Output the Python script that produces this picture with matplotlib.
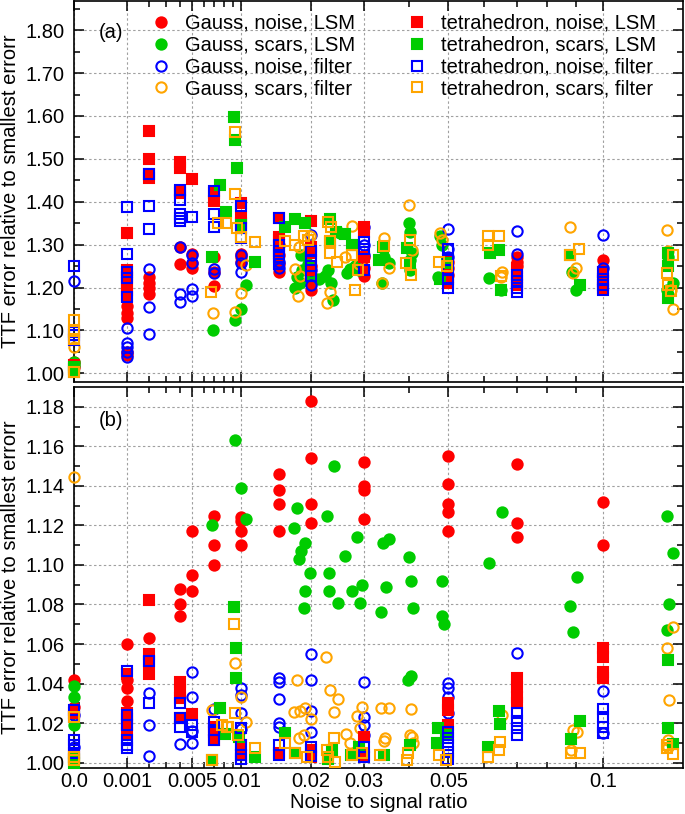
import numpy as np
import matplotlib
matplotlib.use("Agg")
import matplotlib.pyplot as plt
from matplotlib.lines import Line2D

plt.rcParams['font.family'] = ['Liberation Sans', 'DejaVu Sans']

# ---------------- data: panel (a) ----------------
gnl_a_x = [0, 0, 0.001, 0.001, 0.001, 0.001, 0.001, 0.002, 0.002, 0.002, 0.002, 0.004, 0.004,
           0.005, 0.005, 0.005, 0.007, 0.007, 0.007, 0.01, 0.01, 0.01, 0.015, 0.015, 0.015, 0.015,
           0.02, 0.02, 0.02, 0.02, 0.03, 0.03, 0.03, 0.05, 0.05, 0.05, 0.07, 0.07, 0.07, 0.1]
gnl_a_y = [1.026, 1.015, 1.157, 1.14, 1.13, 1.05, 1.042, 1.225, 1.21, 1.20, 1.186, 1.294, 1.255,
           1.278, 1.256, 1.245, 1.272, 1.235, 1.204, 1.278, 1.27, 1.259, 1.30, 1.275, 1.255, 1.237,
           1.25, 1.23, 1.21, 1.194, 1.27, 1.245, 1.228, 1.26, 1.245, 1.23, 1.27, 1.26, 1.25, 1.263]

gsl_a_x = [0, 0, 0.0069, 0.0105, 0.01, 0.0093, 0.0174, 0.0182, 0.0178, 0.0185, 0.0184, 0.0195,
           0.0200, 0.0215, 0.0225, 0.0230, 0.024, 0.0235, 0.0252, 0.0266, 0.0272, 0.0282, 0.029,
           0.0338, 0.0353, 0.0342, 0.04, 0.0403, 0.0408, 0.0403, 0.0403, 0.0474, 0.0478, 0.0482,
           0.0616, 0.065, 0.0884, 0.09, 0.126, 0.128, 0.1256]
gsl_a_y = [1.027, 1.02, 1.101, 1.206, 1.149, 1.124, 1.198, 1.21, 1.225, 1.24, 1.276, 1.255,
           1.23, 1.22, 1.226, 1.24, 1.172, 1.21, 1.326, 1.233, 1.244, 1.249, 1.24,
           1.211, 1.256, 1.27, 1.35, 1.33, 1.28, 1.265, 1.24, 1.225, 1.32, 1.30,
           1.223, 1.194, 1.237, 1.194, 1.27, 1.21, 1.194]

gnf_a_x = [0, 0.001, 0.001, 0.001, 0.001, 0.001, 0.002, 0.002, 0.002, 0.004, 0.004, 0.004,
           0.005, 0.005, 0.005, 0.005, 0.007, 0.007, 0.01, 0.01, 0.01, 0.015, 0.015,
           0.02, 0.02, 0.02, 0.03, 0.03, 0.03, 0.05, 0.05, 0.05, 0.07, 0.07, 0.1, 0.1]
gnf_a_y = [1.215, 1.105, 1.07, 1.062, 1.05, 1.039, 1.242, 1.154, 1.091, 1.295, 1.186, 1.167,
           1.276, 1.256, 1.196, 1.18, 1.242, 1.233, 1.276, 1.256, 1.235, 1.26, 1.245,
           1.322, 1.207, 1.24, 1.342, 1.30, 1.275, 1.336, 1.29, 1.27, 1.332, 1.277, 1.322, 1.245]

gsf_a_x = [0, 0.0069, 0.0093, 0.01, 0.0105, 0.0174, 0.0179, 0.0182, 0.0180, 0.0199, 0.0228,
           0.0233, 0.0275, 0.0262, 0.0289, 0.0338, 0.0342, 0.0355, 0.04, 0.0407, 0.0478, 0.0482,
           0.0653, 0.0650, 0.0878, 0.09, 0.089, 0.1253, 0.126, 0.128, 0.127]
gsf_a_y = [1.062, 1.14, 1.144, 1.188, 1.252, 1.242, 1.18, 1.228, 1.294, 1.319, 1.163,
           1.19, 1.343, 1.272, 1.255, 1.21, 1.315, 1.245, 1.392, 1.287, 1.326, 1.31,
           1.237, 1.225, 1.342, 1.245, 1.233, 1.334, 1.284, 1.151, 1.194]

tnl_a_x = [0, 0, 0.001, 0.001, 0.001, 0.001, 0.001, 0.001, 0.002, 0.002, 0.002, 0.002,
           0.004, 0.004, 0.004, 0.004, 0.005, 0.007, 0.007, 0.01, 0.01, 0.01,
           0.015, 0.015, 0.015, 0.015, 0.02, 0.02, 0.02, 0.02, 0.03, 0.03, 0.03, 0.03,
           0.05, 0.05, 0.05, 0.05, 0.07, 0.07, 0.07, 0.1, 0.1, 0.1]
tnl_a_y = [1.02, 1.01, 1.327, 1.24, 1.225, 1.21, 1.195, 1.18, 1.565, 1.499, 1.465, 1.455,
           1.493, 1.479, 1.426, 1.42, 1.453, 1.42, 1.402, 1.396, 1.361, 1.35,
           1.361, 1.318, 1.31, 1.28, 1.356, 1.295, 1.28, 1.24, 1.342, 1.33, 1.272, 1.24,
           1.264, 1.25, 1.225, 1.21, 1.245, 1.225, 1.205, 1.235, 1.215, 1.2]

tsl_a_x = [0, 0, 0.0068, 0.0076, 0.0082, 0.0091, 0.0093, 0.0095, 0.0099, 0.0117, 0.0159,
           0.0174, 0.019, 0.0234, 0.0234, 0.0275, 0.0245, 0.0262, 0.0279, 0.0333, 0.034,
           0.0395, 0.0403, 0.0478, 0.0497, 0.0618, 0.0645, 0.065, 0.0878, 0.0913, 0.126,
           0.126, 0.126]
tsl_a_y = [1.015, 1.004, 1.27, 1.439, 1.377, 1.597, 1.544, 1.478, 1.346, 1.26, 1.342,
           1.359, 1.35, 1.359, 1.307, 1.30, 1.33, 1.324, 1.30, 1.264, 1.295,
           1.292, 1.257, 1.221, 1.257, 1.28, 1.287, 1.194, 1.276, 1.206, 1.281,
           1.25, 1.175]

tnf_a_x = [0, 0, 0, 0, 0.001, 0.001, 0.001, 0.001, 0.001, 0.002, 0.002, 0.002,
           0.004, 0.004, 0.004, 0.004, 0.004, 0.005, 0.007, 0.007, 0.007, 0.01, 0.01, 0.01,
           0.015, 0.015, 0.015, 0.015, 0.015, 0.02, 0.02, 0.02, 0.02, 0.03, 0.03, 0.03,
           0.05, 0.05, 0.05, 0.05, 0.05, 0.07, 0.07, 0.07, 0.07, 0.1, 0.1, 0.1, 0.1]
tnf_a_y = [1.251, 1.097, 1.09, 1.078, 1.387, 1.278, 1.237, 1.222, 1.177, 1.465, 1.39, 1.336,
           1.427, 1.405, 1.371, 1.362, 1.356, 1.365, 1.426, 1.371, 1.34, 1.39, 1.338, 1.316,
           1.361, 1.30, 1.285, 1.27, 1.255, 1.284, 1.265, 1.25, 1.226, 1.307, 1.29, 1.241,
           1.29, 1.265, 1.24, 1.22, 1.20, 1.23, 1.215, 1.20, 1.19, 1.235, 1.22, 1.205, 1.195]

tsf_a_x = [0, 0, 0, 0, 0.0067, 0.0092, 0.0093, 0.0074, 0.0082, 0.0095, 0.0099, 0.0117,
           0.0159, 0.0174, 0.0196, 0.0188, 0.0231, 0.0236, 0.0233, 0.0233, 0.0246, 0.0275,
           0.0282, 0.0288, 0.0342, 0.0393, 0.0403, 0.0405, 0.0476, 0.0497, 0.0613, 0.0645,
           0.0613, 0.065, 0.0878, 0.091, 0.1256, 0.126, 0.128, 0.127]
tsf_a_y = [1.124, 1.098, 1.08, 1.004, 1.189, 1.562, 1.417, 1.35, 1.35, 1.338, 1.317, 1.307,
           1.308, 1.30, 1.311, 1.32, 1.353, 1.34, 1.309, 1.28, 1.26, 1.275,
           1.194, 1.24, 1.296, 1.258, 1.311, 1.229, 1.259, 1.249, 1.321, 1.321,
           1.30, 1.228, 1.276, 1.29, 1.233, 1.206, 1.276, 1.193]

# ---------------- data: panel (b) ----------------
gnl_b_x = [0, 0, 0.001, 0.001, 0.001, 0.001, 0.002, 0.004, 0.004, 0.004, 0.005, 0.005, 0.005,
           0.007, 0.007, 0.007, 0.01, 0.01, 0.01, 0.01, 0.015, 0.015, 0.015, 0.015,
           0.02, 0.02, 0.02, 0.02, 0.03, 0.03, 0.03, 0.03, 0.05, 0.05, 0.05, 0.05, 0.05,
           0.07, 0.07, 0.07, 0.1, 0.1]
gnl_b_y = [1.042, 1.028, 1.060, 1.042, 1.038, 1.031, 1.063, 1.088, 1.080, 1.074, 1.117, 1.095, 1.087,
           1.125, 1.110, 1.100, 1.124, 1.122, 1.117, 1.110, 1.146, 1.138, 1.131, 1.117,
           1.183, 1.154, 1.131, 1.121, 1.152, 1.140, 1.138, 1.123, 1.155, 1.141, 1.131, 1.127, 1.117,
           1.151, 1.121, 1.114, 1.132, 1.110]

gsl_b_x = [0, 0, 0, 0.0068, 0.0093, 0.00995, 0.0105, 0.0178, 0.0173, 0.0191, 0.0184, 0.0181,
           0.0199, 0.0191, 0.0188, 0.0242, 0.0228, 0.0232, 0.0232, 0.0249, 0.0263, 0.0286,
           0.0295, 0.0275, 0.0291, 0.0341, 0.0353, 0.0347, 0.0336, 0.0401, 0.0405, 0.0409,
           0.0399, 0.0405, 0.0482, 0.0482, 0.0489, 0.0615, 0.0654, 0.0902, 0.0878, 0.0887,
           0.1256, 0.1281, 0.1265, 0.1256]
gsl_b_y = [1.039, 1.033, 1.019, 1.120, 1.163, 1.139, 1.123, 1.129, 1.1185, 1.111, 1.107, 1.103,
           1.096, 1.087, 1.078, 1.150, 1.125, 1.096, 1.087, 1.081, 1.1045, 1.114,
           1.090, 1.087, 1.081, 1.111, 1.113, 1.089, 1.076, 1.104, 1.092, 1.078,
           1.042, 1.044, 1.092, 1.074, 1.070, 1.101, 1.127, 1.094, 1.079, 1.066,
           1.125, 1.106, 1.080, 1.067]

gnf_b_x = [0, 0, 0.002, 0.002, 0.002, 0.004, 0.005, 0.005, 0.005, 0.005, 0.007,
           0.01, 0.01, 0.01, 0.01, 0.015, 0.015, 0.015, 0.015, 0.015,
           0.02, 0.02, 0.02, 0.02, 0.03, 0.03, 0.03, 0.03, 0.05, 0.05, 0.05, 0.05,
           0.07, 0.1, 0.1]
gnf_b_y = [1.024, 1.008, 1.035, 1.019, 1.0035, 1.0095, 1.046, 1.033, 1.016, 1.010, 1.027,
           1.038, 1.034, 1.025, 1.017, 1.043, 1.041, 1.032, 1.020, 1.018,
           1.055, 1.042, 1.026, 1.0155, 1.041, 1.023, 1.019, 1.014, 1.0405, 1.038, 1.033, 1.025,
           1.0556, 1.0364, 1.015]

gsf_b_x = [0, 0.0068, 0.00925, 0.0099, 0.0105, 0.0178, 0.0173, 0.0182, 0.0190, 0.02, 0.0180,
           0.0189, 0.0227, 0.0233, 0.0249, 0.0241, 0.0264, 0.0272, 0.0295, 0.0285, 0.0291,
           0.0336, 0.0354, 0.0405, 0.0345, 0.0342, 0.0403, 0.0408, 0.0411, 0.0654,
           0.0887, 0.0904, 0.088, 0.1282, 0.1256, 0.1263, 0.1260, 0.1260]
gsf_b_y = [1.1446, 1.0267, 1.0503, 1.0334, 1.0207, 1.0418, 1.0255, 1.0262, 1.0275, 1.0219, 1.0123,
           1.014, 1.0536, 1.0368, 1.032, 1.0258, 1.0143, 1.0098, 1.0283, 1.0238, 1.0174,
           1.0275, 1.0275, 1.027, 1.0123, 1.0109, 1.014, 1.013, 1.0098, 1.0241,
           1.0165, 1.0157, 1.0064, 1.0684, 1.0581, 1.0317, 1.0115, 1.0081]

tnl_b_x = [0, 0, 0.001, 0.001, 0.001, 0.001, 0.001, 0.002, 0.002, 0.002, 0.002,
           0.004, 0.004, 0.004, 0.004, 0.005, 0.007, 0.007, 0.007, 0.01, 0.01, 0.015,
           0.02, 0.02, 0.03, 0.03, 0.05, 0.05, 0.05, 0.07, 0.07, 0.07, 0.07,
           0.1, 0.1, 0.1, 0.1]
tnl_b_y = [1.025, 1.003, 1.045, 1.025, 1.022, 1.019, 1.015, 1.0823, 1.0548, 1.0511, 1.0447,
           1.041, 1.037, 1.0326, 1.0224, 1.0245, 1.018, 1.0157, 1.0115, 1.009, 1.0039, 1.0047,
           1.0064, 1.003, 1.0128, 1.0039, 1.030, 1.0267, 1.019, 1.0427, 1.0385, 1.0334, 1.030,
           1.0578, 1.0536, 1.046, 1.0426]

tsl_b_x = [0, 0, 0.0068, 0.0076, 0.0081, 0.0091, 0.0094, 0.0094, 0.0097, 0.0117, 0.0159,
           0.0174, 0.0237, 0.0230, 0.0274, 0.0289, 0.0342, 0.0403, 0.0474, 0.047, 0.0495,
           0.0613, 0.0646, 0.0648, 0.0914, 0.088, 0.1258, 0.1258, 0.128]
tsl_b_y = [1.002, 1.0, 1.0014, 1.0275, 1.0144, 1.0785, 1.0578, 1.0427, 1.0132, 1.003, 1.0149,
           1.0047, 1.0064, 1.002, 1.004, 1.008, 1.0039, 1.009, 1.0174, 1.0098, 1.014,
           1.008, 1.0261, 1.0194, 1.0211, 1.012, 1.0519, 1.0177, 1.0093]

tnf_b_x = [0, 0, 0, 0, 0, 0.001, 0.001, 0.001, 0.001, 0.001, 0.001, 0.002, 0.002,
           0.004, 0.004, 0.004, 0.005, 0.005, 0.007, 0.007, 0.007, 0.01, 0.01, 0.01, 0.01,
           0.015, 0.015, 0.02, 0.02, 0.03, 0.03, 0.05, 0.05, 0.05, 0.05, 0.05,
           0.07, 0.07, 0.07, 0.07, 0.1, 0.1, 0.1, 0.1]
tnf_b_y = [1.0267, 1.0233, 1.0115, 1.009, 1.005, 1.0464, 1.0241, 1.019, 1.0115, 1.009, 1.0073,
           1.0514, 1.030, 1.030, 1.0224, 1.018, 1.019, 1.0157, 1.0207, 1.0165, 1.0115,
           1.0174, 1.009, 1.0039, 1.002, 1.009, 1.004, 1.0081, 1.0035, 1.008, 1.003,
           1.0157, 1.0123, 1.009, 1.0056, 1.002, 1.025, 1.021, 1.0174, 1.014,
           1.027, 1.0233, 1.0182, 1.015]

tsf_b_x = [0, 0, 0, 0.0068, 0.0078, 0.0084, 0.0091, 0.0092, 0.0085, 0.0096, 0.0117, 0.0159,
           0.0174, 0.0193, 0.0241, 0.0228, 0.0231, 0.0244, 0.0276, 0.0295, 0.0334, 0.0399,
           0.0395, 0.0476, 0.0495, 0.0613, 0.0648, 0.0646, 0.088, 0.0912, 0.1253, 0.1253, 0.128]
tsf_b_y = [1.0233, 1.003, 1.0014, 1.0014, 1.019, 1.0182, 1.070, 1.025, 1.0182, 1.014, 1.0073, 1.0098,
           1.0047, 1.003, 1.0123, 1.0064, 1.003, 1.0005, 1.004, 1.0047, 1.004, 1.0047,
           1.0014, 1.004, 1.0014, 1.003, 1.0107, 1.0064, 1.0047, 1.0047, 1.009, 1.0073, 1.0042]

labels = ["Gauss, noise, LSM", "Gauss, scars, LSM", "Gauss, noise, filter", "Gauss, scars, filter",
          "tetrahedron, noise, LSM", "tetrahedron, scars, LSM", "tetrahedron, noise, filter",
          "tetrahedron, scars, filter"]
xticks = [0.0, 0.001, 0.005, 0.01, 0.02, 0.03, 0.05, 0.1]
xticklabels = ["0.0", "0.001", "0.005", "0.01", "0.02", "0.03", "0.05", "0.1"]
xminor = [0.002, 0.003, 0.004, 0.006, 0.007, 0.008, 0.009, 0.04, 0.06, 0.07, 0.08, 0.09]

RED, GREEN, BLUE, ORANGE = "#ff0000", "#00cc00", "#0000ff", "#ffa500"
styles = [
    dict(marker='o', mfc=RED, mec=RED),
    dict(marker='o', mfc=GREEN, mec=GREEN),
    dict(marker='o', mfc='none', mec=BLUE),
    dict(marker='o', mfc='none', mec=ORANGE),
    dict(marker='s', mfc=RED, mec=RED),
    dict(marker='s', mfc=GREEN, mec=GREEN),
    dict(marker='s', mfc='none', mec=BLUE),
    dict(marker='s', mfc='none', mec=ORANGE),
]
MS = 7.4
MEW = 1.5

panel_a = [(gnl_a_x, gnl_a_y), (gsl_a_x, gsl_a_y), (gnf_a_x, gnf_a_y), (gsf_a_x, gsf_a_y),
           (tnl_a_x, tnl_a_y), (tsl_a_x, tsl_a_y), (tnf_a_x, tnf_a_y), (tsf_a_x, tsf_a_y)]
panel_b = [(gnl_b_x, gnl_b_y), (gsl_b_x, gsl_b_y), (gnf_b_x, gnf_b_y), (gsf_b_x, gsf_b_y),
           (tnl_b_x, tnl_b_y), (tsl_b_x, tsl_b_y), (tnf_b_x, tnf_b_y), (tsf_b_x, tsf_b_y)]


def fwd(x):
    return np.sqrt(np.clip(x, 0, None))


def inv(x):
    return np.asarray(x) ** 2


W, H = 685, 814
fig = plt.figure(figsize=(W / 100, H / 100), dpi=100)
L, R = 74, 683
ax_a = fig.add_axes([L / W, 1 - 382 / H, (R - L) / W, (382 - 1) / H])
ax_b = fig.add_axes([L / W, 1 - 768 / H, (R - L) / W, (768 - 387) / H])

FS = 14.5
for ax, data, ylim, ymaj, ymin in [
        (ax_a, panel_a, (0.9797, 1.868), np.arange(1.0, 1.81, 0.1), np.arange(1.05, 1.86, 0.1)),
        (ax_b, panel_b, (0.9973, 1.19), np.arange(1.0, 1.181, 0.02), np.arange(1.01, 1.19, 0.02))]:
    ax.set_xscale('function', functions=(fwd, inv))
    ax.set_xlim(0, 0.13235)
    ax.set_ylim(*ylim)
    for (xs, ys), st in zip(data, styles):
        ax.plot(xs, ys, linestyle='none', ms=MS, mew=MEW, clip_on=False, zorder=3, **st)
    ax.set_xticks(xticks)
    ax.set_xticks(xminor, minor=True)
    ax.set_yticks(ymaj)
    ax.set_yticks(ymin, minor=True)
    ax.grid(True, which='major', linestyle=(0, (2.2, 2.2)), color='#a0a0a0', linewidth=0.8)
    ax.set_axisbelow(True)
    ax.tick_params(which='both', direction='in', top=True, right=True, width=1.1,
                   labelsize=FS, colors='black')
    ax.tick_params(which='major', length=7)
    ax.tick_params(which='minor', length=4)
    ax.tick_params(axis='y', pad=7)
    ax.tick_params(axis='x', pad=3)
    for s in ax.spines.values():
        s.set_linewidth(1.2)
    ax.set_ylabel("TTF error relative to smallest errorr", fontsize=FS)
    ax.yaxis.set_label_coords(-0.088, 0.5)

ax_a.set_yticklabels(["%.2f" % v for v in np.arange(1.0, 1.81, 0.1)])
ax_b.set_yticklabels(["%.2f" % v for v in np.arange(1.0, 1.181, 0.02)])
ax_a.set_xticklabels([])
ax_b.set_xticklabels(xticklabels)
ax_b.set_xlabel("Noise to signal ratio", fontsize=FS, labelpad=1.5)

ax_a.text(0.041, 0.918, "(a)", transform=ax_a.transAxes, fontsize=FS, va='center', ha='left')
ax_b.text(0.041, 0.913, "(b)", transform=ax_b.transAxes, fontsize=FS, va='center', ha='left')

handles = [Line2D([], [], linestyle='none', ms=MS, mew=MEW, **st) for st in styles]
ax_a.legend(handles, labels, ncol=2, loc='upper left', bbox_to_anchor=(0.1264, 0.966),
            frameon=False, fontsize=FS, handlelength=1.0, handletextpad=0.7,
            columnspacing=2.55, labelspacing=0.14, borderpad=0.0, borderaxespad=0.0,
            numpoints=1)

fig.savefig("out.png", dpi=100)
